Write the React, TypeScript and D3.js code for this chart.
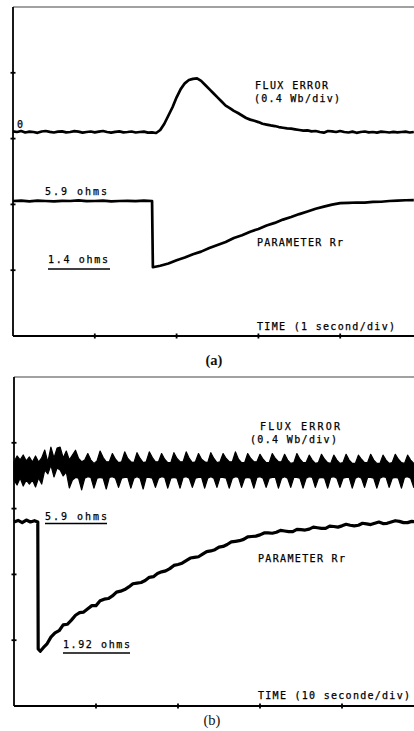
import React, { useEffect, useRef } from 'react';
import * as d3 from 'd3';

// ---- panel (a): time in seconds (1 s/div) ----
const fluxAStep = 0.05; // seconds between samples
// flux error, Wb
const fluxA = [
  0.004, 0.0, 0.006, -0.003, 0.002, 0.0, -0.005, 0.003, 0.006, 0.001,
  -0.003, 0.002, 0.004, -0.002, 0.0, 0.005, 0.002, -0.004, 0.0, 0.003,
  -0.002, 0.002, 0.006, 0.0, -0.004, 0.001, 0.004, -0.002, 0.0, 0.003,
  -0.003, 0.0, 0.002, -0.004, -0.002, -0.006,
  0.012, 0.05, 0.10, 0.15, 0.21, 0.26, 0.295, 0.315, 0.322, 0.325,
  0.31, 0.285, 0.26, 0.235, 0.21, 0.185, 0.16, 0.145, 0.128, 0.115,
  0.10, 0.085, 0.075, 0.068, 0.06, 0.05, 0.045, 0.04, 0.036, 0.03,
  0.026, 0.022, 0.02, 0.016, 0.012, 0.008, 0.01, 0.004, 0.006, 0.0,
  -0.004, 0.006, 0.004, 0.0, 0.006,
  0.0, -0.003, 0.002, -0.005, 0.0, 0.003, -0.002, 0.0, -0.004, 0.002,
  0.0, -0.003, 0.001, -0.002, 0.0, 0.002, -0.003, 0.0
];
// rotor resistance estimate, ohms
const rrATime = [
  0.0, 0.1, 0.2, 0.3, 0.4, 0.5, 0.6, 0.7, 0.8, 0.9, 1.0, 1.1, 1.2, 1.3, 1.4, 1.5, 1.6, 1.7,
  1.71, 1.8, 1.9, 2.0, 2.1, 2.2, 2.3, 2.4, 2.5, 2.6, 2.7, 2.8, 2.9, 3.0, 3.1, 3.2, 3.3,
  3.4, 3.5, 3.6, 3.7, 3.8, 3.9, 4.0, 4.1, 4.2, 4.3, 4.4, 4.5, 4.6, 4.7, 4.8, 4.9
];
const rrAValue = [
  5.9, 5.93, 5.88, 5.92, 5.9, 5.87, 5.91, 5.9, 5.94, 5.89, 5.9, 5.92, 5.88, 5.9, 5.91, 5.89, 5.92, 5.9,
  1.45, 1.55, 1.7, 1.92, 2.1, 2.32, 2.5, 2.74, 2.95, 3.15, 3.42, 3.6, 3.84, 4.02, 4.26, 4.43, 4.65,
  4.82, 5.02, 5.2, 5.38, 5.52, 5.66, 5.76, 5.78, 5.8, 5.79, 5.84, 5.85, 5.9, 5.92, 5.95, 5.96
];

// ---- panel (b): time in seconds (10 s/div) ----
const fluxBStep = 0.375;
// flux error band, upper / lower edge of the trace, Wb
const fluxBUpper = [
  0.048, 0.085, 0.061, 0.091, 0.055, 0.079, 0.048, 0.085, 0.048, 0.073,
  0.121, 0.048, 0.139, 0.073, 0.133, 0.139, 0.073, 0.115, 0.061, 0.091,
  0.12, 0.07, 0.05, 0.06, 0.10, 0.06, 0.04, 0.055, 0.115, 0.075, 0.05, 0.05,
  0.10, 0.065, 0.045, 0.05, 0.11, 0.07, 0.05, 0.045, 0.105, 0.07, 0.045, 0.05,
  0.11, 0.075, 0.05, 0.05, 0.10, 0.065, 0.045, 0.045, 0.105, 0.07, 0.05, 0.05,
  0.11, 0.07, 0.045, 0.05, 0.10, 0.065, 0.05, 0.045, 0.105, 0.07, 0.045, 0.05,
  0.10, 0.07, 0.05, 0.05, 0.11, 0.065, 0.045, 0.045, 0.10, 0.07, 0.05, 0.05,
  0.095, 0.065, 0.045, 0.045, 0.10, 0.07, 0.05, 0.05, 0.095, 0.06, 0.04, 0.045,
  0.10, 0.065, 0.045, 0.045, 0.09, 0.06, 0.04, 0.045, 0.095, 0.065, 0.045, 0.04,
  0.09, 0.06, 0.04, 0.045, 0.095, 0.06, 0.04, 0.04, 0.09, 0.065, 0.045, 0.045,
  0.095, 0.06, 0.04, 0.04, 0.09, 0.06, 0.04, 0.045, 0.095, 0.065, 0.045, 0.04,
  0.09, 0.06, 0.04, 0.045
];
const fluxBLower = [
  -0.061, -0.091, -0.048, -0.097, -0.061, -0.085, -0.061, -0.103, -0.048, -0.085,
  0.0, -0.024, 0.030, -0.042, 0.012, 0.0, -0.036, -0.012, -0.109, -0.061,
  -0.045, -0.05, -0.12, -0.05, -0.04, -0.045, -0.11, -0.05, -0.045, -0.05, -0.115, -0.045,
  -0.04, -0.05, -0.105, -0.05, -0.045, -0.045, -0.11, -0.05, -0.04, -0.05, -0.115, -0.045,
  -0.045, -0.05, -0.105, -0.05, -0.04, -0.045, -0.11, -0.05, -0.045, -0.05, -0.11, -0.045,
  -0.04, -0.05, -0.105, -0.05, -0.045, -0.045, -0.11, -0.05, -0.04, -0.05, -0.105, -0.045,
  -0.045, -0.05, -0.11, -0.05, -0.04, -0.045, -0.105, -0.05, -0.045, -0.05, -0.11, -0.045,
  -0.04, -0.05, -0.105, -0.05, -0.045, -0.045, -0.11, -0.05, -0.04, -0.05, -0.105, -0.045,
  -0.045, -0.05, -0.11, -0.05, -0.04, -0.045, -0.105, -0.05, -0.045, -0.05, -0.11, -0.045,
  -0.04, -0.05, -0.105, -0.05, -0.045, -0.045, -0.11, -0.05, -0.04, -0.05, -0.105, -0.045,
  -0.045, -0.05, -0.11, -0.05, -0.04, -0.045, -0.105, -0.05, -0.045, -0.05, -0.11, -0.045,
  -0.04, -0.05, -0.105, -0.05
];
const rrBTime = [
  0, 0.5, 1.0, 1.5, 2.0, 2.5, 2.9, 2.95, 3.2, 3.6,
  4, 4.5, 5, 5.5, 6, 6.5, 7, 7.5, 8, 8.5, 9, 9.5, 10, 10.5, 11, 11.5, 12, 12.5,
  13, 13.5, 14, 14.5, 15, 15.5, 16, 16.5, 17, 17.5, 18, 18.5, 19, 19.5, 20, 20.5,
  21, 21.5, 22, 22.5, 23, 23.5, 24, 24.5, 25, 25.5, 26, 26.5, 27, 27.5, 28, 28.5,
  29, 29.5, 30, 30.5, 31, 31.5, 32, 32.5, 33, 33.5, 34, 34.5, 35, 35.5, 36, 36.5,
  37, 37.5, 38, 38.5, 39, 39.5, 40, 40.5, 41, 41.5, 42, 42.5, 43, 43.5, 44, 44.5,
  45, 45.5, 46, 46.5, 47, 47.5, 48, 48.5, 49
];
const rrBValue = [
  5.9, 5.95, 5.88, 5.96, 5.9, 5.94, 5.9, 1.95, 1.88, 2.0,
  2.1, 2.32, 2.45, 2.52, 2.7, 2.72, 2.85, 3.0, 3.08, 3.1, 3.2, 3.3, 3.3, 3.45, 3.5, 3.52, 3.6, 3.72,
  3.75, 3.8, 3.88, 3.98, 4.0, 4.02, 4.08, 4.18, 4.2, 4.3, 4.35, 4.38, 4.45, 4.55, 4.58, 4.62,
  4.7, 4.78, 4.8, 4.82, 4.9, 4.98, 5.0, 5.04, 5.12, 5.14, 5.2, 5.28, 5.3, 5.32, 5.36, 5.44,
  5.45, 5.46, 5.5, 5.56, 5.56, 5.55, 5.58, 5.64, 5.62, 5.6, 5.6, 5.67, 5.66, 5.65, 5.68, 5.74,
  5.72, 5.7, 5.7, 5.77, 5.76, 5.74, 5.78, 5.83, 5.8, 5.78, 5.8, 5.86, 5.84, 5.82, 5.86, 5.9,
  5.85, 5.86, 5.9, 5.94, 5.92, 5.88, 5.88, 5.92, 5.9
];

const divTicks = [1, 2, 3, 4];

const W = 414, H = 731;
const monoFont = '"DejaVu Sans Mono", "Liberation Mono", monospace';
const serifFont = '"Liberation Serif", "Times New Roman", serif';

type Sel = d3.Selection<SVGGElement, unknown, null, undefined>;

function label(g: Sel, txt: string, x: number, y: number, len: number) {
  g.append('text')
    .attr('x', x)
    .attr('y', y)
    .attr('textLength', len)
    .attr('lengthAdjust', 'spacing')
    .text(txt);
}

function frame(g: Sel, x: d3.ScaleLinear<number, number>, div: d3.ScaleLinear<number, number>) {
  var x0 = x(0), yb = div(0), yt = div(5);
  var perDiv = x.domain()[1] / 5;
  // top border (faint), left axis, bottom axis
  g.append('line').attr('x1', x0).attr('x2', W).attr('y1', yt).attr('y2', yt)
    .attr('stroke', '#444').attr('stroke-width', 1.2);
  g.append('line').attr('x1', x0).attr('x2', x0).attr('y1', yt).attr('y2', yb)
    .attr('stroke', '#000').attr('stroke-width', 1.8);
  g.append('line').attr('x1', x0).attr('x2', W).attr('y1', yb).attr('y2', yb)
    .attr('stroke', '#000').attr('stroke-width', 1.8);
  // division marks
  g.selectAll('.ty').data(divTicks).enter().append('line')
    .attr('x1', x0 - 2.5).attr('x2', x0 + 2.5)
    .attr('y1', d => div(d)).attr('y2', d => div(d))
    .attr('stroke', '#000').attr('stroke-width', 1.8);
  g.selectAll('.tx').data(divTicks).enter().append('line')
    .attr('x1', d => x(d * perDiv)).attr('x2', d => x(d * perDiv))
    .attr('y1', yb - 2.5).attr('y2', yb + 2.5)
    .attr('stroke', '#000').attr('stroke-width', 1.8);
}

function textGroup(svg: any): Sel {
  return svg.append('g')
    .attr('font-family', monoFont)
    .attr('font-size', 10)
    .attr('fill', '#000')
    .attr('stroke', '#000')
    .attr('stroke-width', 0.25) as Sel;
}

function underline(g: Sel, x1: number, x2: number, y: number) {
  g.append('line').attr('x1', x1).attr('x2', x2).attr('y1', y).attr('y2', y)
    .attr('stroke', '#000').attr('stroke-width', 1.4);
}

export default function App() {
  const ref = useRef<SVGSVGElement>(null);

  useEffect(() => {
    const svg = d3.select(ref.current as SVGSVGElement);
    svg.selectAll('*').remove();

    // ================= (a) =================
    var xA = d3.scaleLinear().domain([0, 5]).range([13, 422]);
    var divA = d3.scaleLinear().domain([0, 5]).range([336, 7]);
    var fluxScaleA = d3.scaleLinear().domain([0, 0.4]).range([132, 66]);
    var rrScaleA = d3.scaleLinear().domain([1.4, 5.9]).range([268, 201]);

    var gA = svg.append('g') as unknown as Sel;
    frame(gA, xA, divA);

    var fluxLineA = d3.line<number>()
      .x((d, i) => xA(i * fluxAStep))
      .y(d => fluxScaleA(d));
    gA.append('path').datum(fluxA)
      .attr('d', fluxLineA)
      .attr('fill', 'none').attr('stroke', '#000')
      .attr('stroke-width', 2.7).attr('stroke-linejoin', 'round');

    var rrLineA = d3.line<number>()
      .x((d, i) => xA(rrATime[i]))
      .y(d => rrScaleA(d));
    gA.append('path').datum(rrAValue)
      .attr('d', rrLineA)
      .attr('fill', 'none').attr('stroke', '#000')
      .attr('stroke-width', 2.7).attr('stroke-linejoin', 'round');

    var tA = textGroup(svg);
    label(tA, '0', 17, fluxScaleA(0) - 4, 6);
    label(tA, 'FLUX ERROR', 255, 89, 73);
    label(tA, '(0.4 Wb/div)', 254, 101.5, 86);
    label(tA, '5.9 ohms', 45, rrScaleA(5.9) - 6, 62);
    label(tA, '1.4 ohms', 48, rrScaleA(1.4) - 5, 60);
    underline(tA, 48, 110, rrScaleA(1.4) + 1);
    label(tA, 'PARAMETER Rr', 257, 246, 86);
    label(tA, 'TIME (1 second/div)', 257, 330, 138);

    svg.append('text')
      .attr('x', 214).attr('y', 365)
      .attr('text-anchor', 'middle')
      .attr('font-family', serifFont)
      .attr('font-size', 14.5).attr('font-weight', 'bold').attr('fill', '#111')
      .text('(a)');

    // ================= (b) =================
    var xB = d3.scaleLinear().domain([0, 50]).range([14, 424]);
    var divB = d3.scaleLinear().domain([0, 5]).range([706, 377]);
    var fluxScaleB = d3.scaleLinear().domain([0, 0.4]).range([470, 404]);
    var rrScaleB = d3.scaleLinear().domain([1.92, 5.9]).range([650, 522]);

    var gB = svg.append('g') as unknown as Sel;
    frame(gB, xB, divB);

    var fluxAreaB = d3.area<number>()
      .x((d, i) => xB(i * fluxBStep))
      .y0((d, i) => fluxScaleB(fluxBLower[i]))
      .y1(d => fluxScaleB(d));
    gB.append('path').datum(fluxBUpper)
      .attr('d', fluxAreaB)
      .attr('fill', '#000').attr('stroke', '#000')
      .attr('stroke-width', 1.2).attr('stroke-linejoin', 'round');

    var rrLineB = d3.line<number>()
      .x((d, i) => xB(rrBTime[i]))
      .y(d => rrScaleB(d));
    gB.append('path').datum(rrBValue)
      .attr('d', rrLineB)
      .attr('fill', 'none').attr('stroke', '#000')
      .attr('stroke-width', 3.2).attr('stroke-linejoin', 'round');

    var tB = textGroup(svg);
    label(tB, 'FLUX  ERROR', 260, 430, 80);
    label(tB, '(0.4 Wb/div)', 250, 443, 87);
    label(tB, '5.9 ohms', 45, rrScaleB(5.9) - 2, 62);
    underline(tB, 45, 107, rrScaleB(5.9) + 1.5);
    label(tB, 'PARAMETER Rr', 258, 562, 87);
    label(tB, '1.92 ohms', 63, rrScaleB(1.92) - 2, 67);
    underline(tB, 63, 130, rrScaleB(1.92) + 3);
    label(tB, 'TIME (10 seconde/div)', 258, 699, 152);

    svg.append('text')
      .attr('x', 212).attr('y', 725)
      .attr('text-anchor', 'middle')
      .attr('font-family', serifFont)
      .attr('font-size', 14.5).attr('fill', '#111')
      .text('(b)');
  }, []);

  return (
    <div style={{ position: 'absolute', left: 0, top: 0 }}>
      <svg ref={ref} width={W} height={H} style={{ display: 'block', background: '#fff' }} />
    </div>
  );
}
